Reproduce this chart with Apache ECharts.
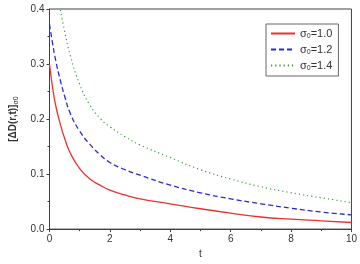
<!DOCTYPE html>
<html>
<head>
<meta charset="utf-8">
<script src="https://cdn.jsdelivr.net/npm/echarts@6/dist/echarts.min.js"></script>
<style>
  html, body { margin: 0; padding: 0; background: #fff; }
  #chart { width: 360px; height: 264px; }
</style>
</head>
<body>
<div id="chart"></div>
<script>
// t values and curves
var tValues = [0, 0.1, 0.2, 0.36, 0.5, 0.69, 1, 1.34, 1.7, 2, 2.5, 3, 4, 5, 6, 7, 8, 9, 10]
var sigma10 = [0.300, 0.258, 0.226, 0.190, 0.165, 0.138, 0.110, 0.091, 0.079, 0.071, 0.062, 0.055, 0.046, 0.037, 0.029, 0.022, 0.018, 0.015, 0.012]
var sigma12 = [0.372, 0.338, 0.308, 0.270, 0.242, 0.210, 0.178, 0.154, 0.134, 0.121, 0.108, 0.098, 0.080, 0.066, 0.055, 0.046, 0.038, 0.031, 0.026]
var sigma14 = [null, null, null, 0.398, 0.360, 0.315, 0.263, 0.225, 0.200, 0.186, 0.168, 0.153, 0.130, 0.108, 0.091, 0.077, 0.066, 0.057, 0.048]
var seriesNames = ['σ0=1.0', 'σ0=1.2', 'σ0=1.4']
var xTicks = [0, 2, 4, 6, 8, 10]
var yTicks = [0.0, 0.1, 0.2, 0.3, 0.4]

function pairs (ys) {
  var out = []
  tValues.forEach(function (t, i) {
    if (ys[i] !== null) out.push([t, ys[i]])
  })
  return out
}

var axisColor = '#4a3a48'
var chart = echarts.init(document.getElementById('chart'))
chart.setOption({
  animation: false,
  grid: {
    left: 49, right: 6, top: 9, bottom: 31,
    show: true, borderColor: axisColor, borderWidth: 1
  },
  legend: {
    orient: 'vertical',
    left: 266, top: 24,
    itemWidth: 24, itemHeight: 8, itemGap: 4,
    padding: [4, 6, 4, 4],
    borderColor: '#666', borderWidth: 1,
    backgroundColor: '#fff',
    itemStyle: { opacity: 0 },
    data: seriesNames,
    formatter: function (name) {
      return '{a|σ}{b|0}{a|' + name.slice(2) + '}'
    },
    textStyle: {
      rich: {
        a: { fontFamily: 'Liberation Sans', fontSize: 11, color: '#333' },
        b: { fontFamily: 'Liberation Sans', fontSize: 7, color: '#333', padding: [6, 0, 0, 0] }
      }
    }
  },
  xAxis: {
    type: 'value',
    min: xTicks[0], max: xTicks[xTicks.length - 1], interval: 2,
    name: 't', nameLocation: 'middle', nameGap: 19,
    nameTextStyle: { fontFamily: 'Liberation Sans', fontSize: 10, color: '#333' },
    axisLine: { lineStyle: { color: axisColor } },
    axisTick: { show: true, length: 3, lineStyle: { color: axisColor } },
    minorTick: { show: true, splitNumber: 2, length: 2, lineStyle: { color: axisColor } },
    splitLine: { show: false },
    axisLabel: { fontFamily: 'Liberation Sans', fontSize: 10, color: '#333', margin: 5 }
  },
  yAxis: {
    type: 'value',
    min: yTicks[0], max: yTicks[yTicks.length - 1], interval: 0.1,
    name: '{a|[ΔD(r,t)]}{b|σ0}',
    nameLocation: 'middle', nameGap: 30, nameRotate: 90,
    nameTextStyle: {
      rich: {
        a: { fontFamily: 'Liberation Sans', fontSize: 10, color: '#333', fontWeight: 'bold' },
        b: { fontFamily: 'Liberation Sans', fontSize: 7, color: '#333', padding: [6, 0, 0, 0] }
      }
    },
    axisLine: { show: true, lineStyle: { color: axisColor } },
    axisTick: { show: true, length: 3, lineStyle: { color: axisColor } },
    minorTick: { show: true, splitNumber: 2, length: 2, lineStyle: { color: axisColor } },
    splitLine: { show: false },
    axisLabel: {
      fontFamily: 'Liberation Sans', fontSize: 10, color: '#333', margin: 5,
      formatter: function (v) { return v.toFixed(1) }
    }
  },
  series: [
    {
      name: seriesNames[0], type: 'line', data: pairs(sigma10),
      symbol: 'none', smooth: 0.5,
      itemStyle: { color: '#e8322e' },
      lineStyle: { color: '#e8322e', width: 1.3 }
    },
    {
      name: seriesNames[1], type: 'line', data: pairs(sigma12),
      symbol: 'none', smooth: 0.5,
      itemStyle: { color: '#2b2bd0' },
      lineStyle: { color: '#2b2bd0', width: 1.3, type: [5, 3] }
    },
    {
      name: seriesNames[2], type: 'line', data: pairs(sigma14),
      symbol: 'none', smooth: 0.5,
      itemStyle: { color: '#3f9a45' },
      lineStyle: { color: '#3f9a45', width: 1.2, type: [1.2, 3] }
    }
  ]
})
</script>
</body>
</html>
